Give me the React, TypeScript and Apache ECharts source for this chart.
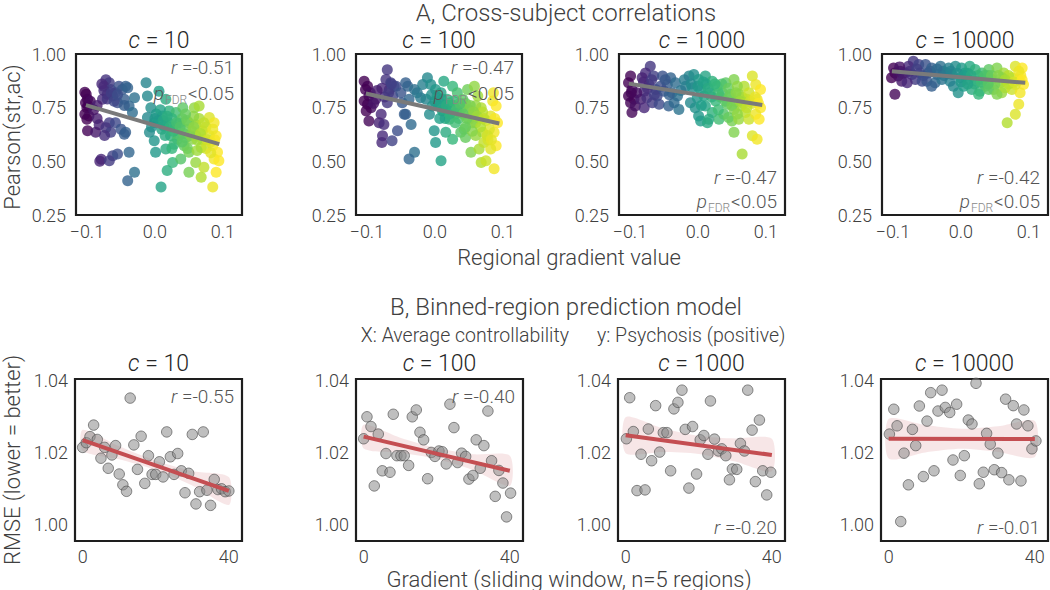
import React, { useEffect, useRef } from "react";
import * as echarts from "echarts";

const cLabels = ["10", "100", "1000", "10000"];
const rA = ["-0.51", "-0.47", "-0.47", "-0.42"];
const rB = ["-0.55", "-0.40", "-0.20", "-0.01"];
const aTicksX = [-0.1, 0, 0.1];
const aTicksY = [0.25, 0.5, 0.75, 1.0];
const bTicksX = [0, 40];
const bTicksY = [1.0, 1.02, 1.04];

const scatterA10 = [
  [-0.103,0.822],[-0.101,0.812],[-0.099,0.789],[-0.102,0.773],[-0.098,0.758],[-0.1,0.75],[-0.103,0.719],[-0.097,0.711],[-0.1,0.696],[-0.099,0.642],
  [-0.085,0.7],[-0.082,0.67],[-0.087,0.635],[-0.079,0.51],[-0.081,0.5],
  [-0.072,0.88],[-0.067,0.866],[-0.075,0.85],[-0.065,0.835],[-0.07,0.812],[-0.062,0.804],[-0.077,0.789],[-0.067,0.68],[-0.072,0.657],[-0.065,0.635],[-0.074,0.62],[-0.062,0.526],[-0.067,0.503],
  [-0.053,0.85],[-0.058,0.82],[-0.048,0.835],[-0.043,0.85],[-0.055,0.773],[-0.045,0.789],[-0.058,0.68],[-0.05,0.65],[-0.045,0.626],[-0.055,0.534],
  [-0.04,0.843],[-0.03,0.796],[-0.038,0.758],[-0.033,0.727],[-0.043,0.635],[-0.038,0.542],[-0.03,0.449],[-0.04,0.41],
  [-0.013,0.866],[-0.011,0.804],[-0.006,0.75],[-0.011,0.704],[-0.001,0.68],[-0.008,0.635],[-0.001,0.596],[0.001,0.542],[0.009,0.38],
  [0.006,0.827],[0.016,0.789],[0.011,0.711],[0.021,0.735],[0.013,0.665],[0.023,0.619],[0.016,0.557],[0.018,0.457],[0.026,0.495],
  [0.031,0.727],[0.041,0.75],[0.036,0.68],[0.045,0.65],[0.033,0.603],[0.043,0.573],[0.05,0.542],[0.038,0.511],[0.05,0.449],
  [0.058,0.75],[0.065,0.758],[0.06,0.672],[0.07,0.642],[0.055,0.603],[0.068,0.565],[0.06,0.495],[0.072,0.472],[0.068,0.426],
  [0.08,0.704],[0.087,0.68],[0.09,0.619],[0.085,0.573],[0.092,0.542],[0.087,0.511],[0.094,0.503],[0.09,0.449],[0.085,0.38],
  [0.0,0.7],[0.005,0.69],[0.01,0.65],[0.02,0.68],[0.025,0.7],[0.03,0.66],[0.035,0.62],[0.04,0.7],[0.045,0.61],[0.05,0.68],
  [0.055,0.64],[0.06,0.62],[0.065,0.7],[0.07,0.6],[0.075,0.66],[0.08,0.62],[0.085,0.65],[-0.005,0.66],[0.015,0.62],[0.028,0.58],
  [0.048,0.56],[0.075,0.56],[0.082,0.59],
  [-0.075,0.83],[-0.07,0.79],[-0.078,0.86],[-0.064,0.82],[-0.06,0.78],[-0.095,0.78],[-0.09,0.74],[-0.085,0.76],[-0.055,0.81],[-0.045,0.76],
  [0.002,0.72],[0.008,0.74],[0.012,0.69],[0.018,0.71],[0.022,0.66],[0.027,0.64],[0.032,0.68],[0.037,0.66],[0.042,0.63],[0.047,0.69],
  [0.052,0.62],[0.057,0.66],[0.062,0.6],[0.067,0.63],[0.072,0.68],[0.077,0.6],[0.082,0.54],[0.088,0.6],[0.062,0.55],[0.04,0.59],
  [0.025,0.56],[0.057,0.71],[0.045,0.72]
];

const scatterA100 = [
  [-0.104,0.873],[-0.099,0.85],[-0.102,0.835],[-0.097,0.804],[-0.104,0.781],[-0.099,0.766],[-0.094,0.75],[-0.101,0.735],[-0.097,0.688],
  [-0.087,0.789],[-0.079,0.719],[-0.082,0.68],[-0.077,0.619],[-0.078,0.588],
  [-0.07,0.927],[-0.072,0.881],[-0.065,0.866],[-0.067,0.835],[-0.06,0.85],[-0.062,0.804],[-0.07,0.773],[-0.063,0.596],[-0.075,0.672],
  [-0.057,0.85],[-0.05,0.82],[-0.043,0.866],[-0.048,0.773],[-0.055,0.642],[-0.045,0.719],
  [-0.04,0.85],[-0.03,0.835],[-0.038,0.789],[-0.026,0.82],[-0.043,0.719],[-0.035,0.672],[-0.03,0.542],[-0.038,0.511],[-0.018,0.858],[-0.021,0.796],
  [-0.011,0.889],[-0.006,0.858],[0.001,0.835],[-0.013,0.789],[-0.004,0.758],[-0.001,0.642],[0.001,0.588],[0.009,0.503],[-0.008,0.719],
  [0.013,0.873],[0.009,0.82],[0.018,0.789],[0.026,0.85],[0.011,0.735],[0.021,0.696],[0.016,0.635],[0.026,0.603],[0.023,0.742],
  [0.033,0.82],[0.041,0.789],[0.048,0.835],[0.036,0.727],[0.05,0.696],[0.038,0.635],[0.045,0.611],[0.053,0.542],[0.043,0.65],
  [0.058,0.85],[0.063,0.804],[0.068,0.75],[0.06,0.68],[0.07,0.635],[0.065,0.557],[0.072,0.588],[0.068,0.495],[0.075,0.503],
  [0.085,0.781],[0.09,0.758],[0.082,0.711],[0.092,0.68],[0.087,0.635],[0.09,0.573],[0.082,0.557],[0.087,0.465],
  [0.0,0.78],[0.005,0.76],[0.01,0.79],[0.02,0.77],[0.028,0.76],[0.03,0.72],[0.04,0.75],[0.045,0.77],[0.05,0.74],[0.055,0.72],
  [0.06,0.76],[0.065,0.7],[0.07,0.73],[0.075,0.69],[0.08,0.65],[0.035,0.7],[0.015,0.7],[0.055,0.68],[0.06,0.62],[0.078,0.6],
  [0.086,0.82],[-0.005,0.81],[0.007,0.7],
  [-0.078,0.84],[-0.074,0.8],[-0.068,0.82],[-0.064,0.86],[-0.09,0.77],[-0.095,0.82],[-0.085,0.83],[0.003,0.8],[0.008,0.77],[0.012,0.74],
  [0.017,0.76],[0.022,0.72],[0.027,0.78],[0.032,0.74],[0.037,0.77],[0.042,0.72],[0.047,0.7],[0.052,0.76],[0.057,0.73],[0.062,0.71],
  [0.067,0.66],[0.072,0.7],[0.077,0.62],[0.083,0.6],[0.088,0.7],[0.055,0.64],[0.045,0.66],[0.03,0.68]
];

const scatterA1000 = [
  [-0.099,0.897],[-0.102,0.866],[-0.097,0.835],[-0.102,0.804],[-0.094,0.789],[-0.099,0.773],[-0.097,0.727],[-0.092,0.758],
  [-0.07,0.943],[-0.077,0.912],[-0.082,0.889],[-0.065,0.897],[-0.072,0.858],[-0.079,0.827],[-0.062,0.835],[-0.084,0.789],[-0.075,0.796],[-0.06,0.804],[-0.079,0.75],[-0.067,0.773],[-0.057,0.766],
  [-0.052,0.897],[-0.04,0.889],[-0.045,0.858],[-0.033,0.866],[-0.05,0.827],[-0.038,0.82],[-0.03,0.804],[-0.043,0.758],[-0.028,0.742],[-0.035,0.773],
  [-0.013,0.897],[-0.006,0.905],[0.001,0.881],[-0.018,0.85],[-0.008,0.843],[0.004,0.835],[-0.011,0.773],[-0.001,0.796],[0.001,0.711],[0.004,0.688],[0.014,0.68],[-0.004,0.75],
  [0.011,0.897],[0.021,0.873],[0.028,0.85],[0.009,0.804],[0.018,0.82],[0.026,0.781],[0.011,0.758],[0.021,0.727],[0.031,0.696],[0.016,0.696],
  [0.041,0.866],[0.053,0.881],[0.036,0.82],[0.048,0.812],[0.043,0.766],[0.053,0.742],[0.038,0.719],[0.05,0.688],[0.053,0.635],[0.045,0.704],
  [0.068,0.85],[0.06,0.812],[0.072,0.789],[0.063,0.758],[0.07,0.727],[0.06,0.696],[0.075,0.696],[0.065,0.534],
  [0.08,0.897],[0.085,0.858],[0.092,0.835],[0.087,0.789],[0.092,0.75],[0.085,0.719],[0.09,0.696],[0.08,0.619],[0.087,0.603],
  [-0.09,0.82],[-0.02,0.88],[0.03,0.82],[0.035,0.86],[0.045,0.84],[0.058,0.85],[0.065,0.8],[0.075,0.82],[0.08,0.77],[0.012,0.86],
  [-0.025,0.83],[0.055,0.78],[0.005,0.76],
  [-0.08,0.87],[-0.074,0.84],[-0.068,0.88],[-0.064,0.81],[-0.055,0.85],[-0.048,0.88],[-0.042,0.81],[-0.098,0.82],[-0.01,0.86],[0.0,0.85],
  [0.008,0.87],[0.015,0.84],[0.02,0.8],[0.025,0.86],[0.033,0.8],[0.04,0.78],[0.046,0.8],[0.05,0.76],[0.056,0.82],[0.062,0.78],
  [0.067,0.77],[0.072,0.75],[0.077,0.78],[0.084,0.8],[0.089,0.77],[0.058,0.72],[0.03,0.74]
];

const scatterA10000 = [
  [-0.099,0.935],[-0.097,0.912],[-0.102,0.889],[-0.092,0.897],[-0.097,0.812],[-0.089,0.92],[-0.087,0.873],
  [-0.07,0.966],[-0.077,0.943],[-0.062,0.951],[-0.082,0.912],[-0.072,0.905],[-0.06,0.912],[-0.067,0.881],[-0.079,0.866],[-0.057,0.873],
  [-0.052,0.951],[-0.043,0.935],[-0.03,0.943],[-0.048,0.912],[-0.035,0.905],[-0.026,0.92],[-0.05,0.873],[-0.038,0.866],[-0.028,0.881],[-0.043,0.85],
  [-0.018,0.935],[-0.008,0.943],[0.001,0.935],[-0.013,0.905],[-0.001,0.889],[0.006,0.912],[-0.011,0.85],[-0.004,0.82],[0.004,0.85],[-0.016,0.873],
  [0.013,0.943],[0.021,0.928],[0.031,0.912],[0.011,0.881],[0.023,0.873],[0.033,0.881],[0.016,0.835],[0.028,0.827],[0.036,0.85],[0.026,0.812],
  [0.041,0.928],[0.053,0.935],[0.063,0.912],[0.045,0.881],[0.058,0.866],[0.048,0.835],[0.06,0.82],[0.041,0.835],[0.053,0.812],[0.065,0.843],
  [0.08,0.943],[0.09,0.935],[0.075,0.889],[0.085,0.881],[0.092,0.858],[0.075,0.835],[0.087,0.82],[0.08,0.858],[0.085,0.766],[0.08,0.719],[0.068,0.68],
  [-0.09,0.94],[-0.02,0.91],[0.01,0.91],[0.04,0.9],[0.07,0.9],[0.088,0.9],[0.06,0.89],[0.0,0.87],[0.025,0.9],
  [-0.085,0.91],[-0.075,0.92],[-0.065,0.93],[-0.055,0.9],[-0.045,0.92],[-0.035,0.93],[-0.025,0.9],[-0.015,0.92],[-0.005,0.91],[0.005,0.9],
  [0.015,0.9],[0.02,0.86],[0.03,0.87],[0.035,0.9],[0.045,0.9],[0.05,0.86],[0.055,0.9],[0.065,0.88],[0.07,0.86],[0.078,0.87],
  [0.085,0.92],[0.09,0.88],[0.01,0.86],[0.04,0.86]
];

const fitA10 = [[-0.1015, 0.762], [0.0946, 0.58]];
const fitA100 = [[-0.1015, 0.816], [0.0946, 0.676]];
const fitA1000 = [[-0.1015, 0.862], [0.0946, 0.762]];
const fitA10000 = [[-0.1015, 0.92], [0.0946, 0.866]];

const scatterB10 = [
  [0,1.0213],[1,1.0226],[2,1.0243],[3,1.0275],[4,1.0235],[5,1.0183],[6,1.0213],[7,1.0155],[8,1.0192],[9,1.0218],
  [10,1.0139],[11,1.0109],[12,1.0091],[13,1.035],[14,1.022],[15,1.0152],[16,1.0244],[17,1.0113],[18,1.019],[19,1.0138],
  [20,1.0138],[21,1.0173],[22,1.0131],[23,1.0256],[24,1.0187],[25,1.0138],[26,1.0196],[27,1.0148],[28,1.0087],[29,1.0141],
  [30,1.0249],[31,1.0056],[32,1.009],[33,1.0256],[34,1.0094],[35,1.0052],[36,1.0124],[37,1.0096],[38,1.0098],[39,1.009],[40,1.0092]
];
const scatterB100 = [
  [0,1.0237],[0.9,1.0298],[2,1.0271],[2.9,1.0106],[4,1.025],[5.1,1.0148],[6.1,1.0196],[7.2,1.0144],[8.1,1.0305],[9.1,1.019],
  [10.2,1.019],[11.1,1.019],[12.3,1.0163],[13.3,1.0298],[14.4,1.0317],[15.4,1.0255],[16.4,1.0234],[17.5,1.0126],[18.5,1.0199],[19.5,1.0188],
  [20.6,1.0203],[21.5,1.0201],[22.6,1.0167],[23.6,1.0333],[24.7,1.0268],[25.7,1.0171],[26.8,1.0197],[27.9,1.0188],[28.8,1.0125],[29.9,1.0135],
  [30.8,1.0234],[31.9,1.0155],[32.9,1.0218],[34,1.0314],[35,1.0176],[36,1.0077],[37,1.0149],[38.1,1.0114],[39.1,1.002],[40.2,1.0086]
];
const scatterB1000 = [
  [0.2,1.0237],[1.1,1.0351],[2.1,1.0257],[3.1,1.0093],[4.2,1.0194],[5.3,1.0095],[6.2,1.0264],[7.1,1.0176],[8.2,1.0329],[9.3,1.02],
  [10.3,1.0254],[11.3,1.0254],[12.3,1.0148],[13.2,1.032],[14.3,1.0338],[15.4,1.0372],[16.3,1.0263],[17.3,1.01],[18.3,1.0271],[19.4,1.0139],
  [20.4,1.0234],[21.4,1.0246],[22.5,1.0194],[23.2,1.0342],[24.3,1.0236],[25.4,1.0203],[26.3,1.0209],[27.4,1.019],[28.4,1.0123],[29.2,1.0153],
  [30.4,1.0152],[31.4,1.0224],[32.5,1.0203],[33.4,1.0372],[34.6,1.0261],[35.5,1.0118],[36.6,1.0289],[37.5,1.0148],[38.6,1.0081],[39.7,1.0144]
];
const scatterB10000 = [
  [0.2,1.025],[1.4,1.0319],[2.3,1.0273],[3.3,1.0007],[4.2,1.0197],[5.4,1.0109],[6.5,1.0263],[7.4,1.0218],[8.4,1.0328],[9.5,1.0132],
  [10.5,1.0286],[11.5,1.0365],[12.4,1.0148],[13.5,1.0314],[14.6,1.0372],[15.5,1.0324],[16.7,1.031],[17.6,1.0178],[18.6,1.0333],[19.6,1.0135],
  [20.7,1.019],[21.8,1.0289],[22.8,1.0278],[23.9,1.0391],[24.8,1.0112],[25.9,1.0144],[26.8,1.0252],[27.8,1.0222],[28.9,1.0151],[29.9,1.0197],
  [30.9,1.0143],[32,1.0347],[32.9,1.0123],[34.1,1.0329],[35,1.0278],[36.2,1.012],[37,1.0317],[38.1,1.0273],[39.2,1.0209],[40.3,1.0231]
];

const fitB10 = [[0, 1.0233], [40, 1.0092]];
const fitB100 = [[0, 1.0243], [40, 1.0148]];
const fitB1000 = [[0, 1.0247], [40, 1.0192]];
const fitB10000 = [[0, 1.0237], [40, 1.0236]];

const bandX = [0, 10, 20, 30, 40];
const bandLoB10 = [1.0204, 1.018, 1.015, 1.0107, 1.0053];
const bandHiB10 = [1.0262, 1.0216, 1.0176, 1.0147, 1.0131];
const bandLoB100 = [1.021, 1.0198, 1.0181, 1.015, 1.0106];
const bandHiB100 = [1.0276, 1.024, 1.0211, 1.0194, 1.019];
const bandLoB1000 = [1.0197, 1.02, 1.0195, 1.0174, 1.0147];
const bandHiB1000 = [1.0297, 1.0266, 1.0245, 1.0238, 1.0237];
const bandLoB10000 = [1.0182, 1.0199, 1.0209, 1.02, 1.0186];
const bandHiB10000 = [1.0292, 1.0275, 1.0265, 1.0272, 1.0286];

const viridis = ["#440154", "#482878", "#3e4989", "#31688e", "#26828e", "#1f9e89", "#35b779", "#6ece58", "#b5de2b", "#fde725"];

const FONT = "Roboto, 'Noto Sans', sans-serif";
const TXT = "#404040";

export default function App() {
  const ref = useRef<HTMLDivElement>(null);

  useEffect(() => {
    document.body.style.margin = "0";
    if (!ref.current) return;
    const chart = echarts.init(ref.current, undefined, { renderer: "svg" });

    const scatterA = [scatterA10, scatterA100, scatterA1000, scatterA10000];
    const fitA = [fitA10, fitA100, fitA1000, fitA10000];
    const scatterB = [scatterB10, scatterB100, scatterB1000, scatterB10000];
    const fitB = [fitB10, fitB100, fitB1000, fitB10000];
    const bandLo = [bandLoB10, bandLoB100, bandLoB1000, bandLoB10000];
    const bandHi = [bandHiB10, bandHiB100, bandHiB1000, bandHiB10000];

    const leftsA = [76, 356, 619, 882];
    const leftsB = [75, 356, 618, 881];
    const wA = 166, wB = 167;

    const grids: any[] = [];
    leftsA.forEach((l) => grids.push({ left: l, top: 54, width: wA, height: 161 }));
    leftsB.forEach((l) => grids.push({ left: l, top: 379, width: wB, height: 162 }));
    grids.forEach((g) => { g.show = true; g.borderColor = "#1e1e1e"; g.borderWidth = 2.2; g.backgroundColor = "rgba(0,0,0,0)"; });

    const fmtA = (v: number) => (v < -1e-9 ? "\u2212" : "") + Math.abs(v).toFixed(1);
    const labelBase = { fontSize: 18, color: TXT, fontFamily: FONT, fontWeight: 300 as any };

    const xAxes: any[] = [];
    const yAxes: any[] = [];
    for (let i = 0; i < 4; i++) {
      xAxes.push({
        gridIndex: i, type: "value", min: -0.116, max: 0.128,
        axisLine: { show: false }, axisTick: { show: false }, splitLine: { show: false },
        axisLabel: { ...labelBase, customValues: aTicksX, formatter: fmtA, margin: 7 },
      });
      yAxes.push({
        gridIndex: i, type: "value", min: 0.25, max: 1.0,
        axisLine: { show: false }, axisTick: { show: false }, splitLine: { show: false },
        axisLabel: { ...labelBase, customValues: aTicksY, formatter: (v: number) => v.toFixed(2), margin: 10 },
      });
    }
    for (let i = 0; i < 4; i++) {
      xAxes.push({
        gridIndex: 4 + i, type: "value", min: -2.1, max: 43.6,
        axisLine: { show: false }, axisTick: { show: false }, splitLine: { show: false },
        axisLabel: { ...labelBase, customValues: bTicksX, formatter: (v: number) => String(Math.round(v)), margin: 6 },
      });
      yAxes.push({
        gridIndex: 4 + i, type: "value", min: 0.9953, max: 1.0403,
        axisLine: { show: false }, axisTick: { show: false }, splitLine: { show: false },
        axisLabel: { ...labelBase, customValues: bTicksY, formatter: (v: number) => v.toFixed(2), margin: 7 },
      });
    }

    const series: any[] = [];
    const scatterAIdx: number[] = [];
    for (let i = 0; i < 4; i++) {
      scatterAIdx.push(series.length);
      series.push({
        type: "scatter", xAxisIndex: i, yAxisIndex: i, data: scatterA[i],
        symbolSize: 11, itemStyle: { opacity: 0.8 }, z: 2, silent: true,
      });
      series.push({
        type: "line", xAxisIndex: i, yAxisIndex: i, data: fitA[i], symbol: "none",
        lineStyle: { color: "#7a7a7a", width: 4 }, z: 3, silent: true,
      });
    }
    for (let i = 0; i < 4; i++) {
      const lo = bandLo[i], hi = bandHi[i];
      series.push({
        type: "custom", xAxisIndex: 4 + i, yAxisIndex: 4 + i, data: [[20, 1.02]], z: 1, silent: true,
        renderItem: (_p: any, api: any) => {
          const up = bandX.map((x, k) => api.coord([x, hi[k]]));
          const dn = bandX.map((x, k) => api.coord([x, lo[k]])).reverse();
          return {
            type: "polygon",
            shape: { points: up.concat(dn), smooth: 0.25 },
            style: { fill: "rgba(196,78,82,0.14)" },
          };
        },
      });
      series.push({
        type: "scatter", xAxisIndex: 4 + i, yAxisIndex: 4 + i, data: scatterB[i],
        symbolSize: 10.5,
        itemStyle: { color: "rgba(140,140,140,0.7)", borderColor: "#4a4a4a", borderWidth: 0.8 },
        z: 2, silent: true,
      });
      series.push({
        type: "line", xAxisIndex: 4 + i, yAxisIndex: 4 + i, data: fitB[i], symbol: "none",
        lineStyle: { color: "#c44e52", width: 4 }, z: 3, silent: true,
      });
    }

    const txt = (x: number, y: number, text: string, size: number, align = "center", extra: any = {}) => ({
      type: "text", x, y, z: 100, silent: true, ...extra,
      style: {
        text, fontSize: size, fontFamily: FONT, fontWeight: 300, fill: TXT,
        textAlign: align, align, textVerticalAlign: "middle", verticalAlign: "middle",
      },
    });

    const richBase = (size: number, color = TXT) => ({ fontSize: size, fontFamily: FONT, fontWeight: 300, color, fill: color });
    const cTitle = (x: number, y: number, c: string) => ({
      type: "text", x, y, z: 100, silent: true,
      style: {
        text: `{i|c}{n| = ${c}}`, fontSize: 23, fontFamily: FONT, fontWeight: 300, fill: "#262626",
        textAlign: "center", align: "center", textVerticalAlign: "middle", verticalAlign: "middle",
        rich: { i: { ...richBase(23, "#262626"), fontStyle: "italic" }, n: richBase(23, "#262626") },
      },
    });
    const rText = (x: number, y: number, r: string) => ({
      type: "text", x, y, z: 100, silent: true,
      style: {
        text: `{i|r}{n| =${r}}`, fontSize: 19, fontFamily: FONT, fontWeight: 300, fill: "#555",
        textAlign: "right", align: "right", textVerticalAlign: "middle", verticalAlign: "middle",
        rich: { i: { ...richBase(19, "#555"), fontStyle: "italic" }, n: richBase(19, "#555") },
      },
    });
    const pText = (x: number, y: number) => ({
      type: "text", x, y, z: 100, silent: true,
      style: {
        text: `{i|p}{s|FDR}{n|<0.05}`, fontSize: 19, fontFamily: FONT, fontWeight: 300, fill: "#555",
        textAlign: "right", align: "right", textVerticalAlign: "middle", verticalAlign: "middle",
        rich: {
          i: { ...richBase(19, "#555"), fontStyle: "italic" },
          s: { ...richBase(12, "#888"), padding: [14, 1, 0, 1] },
          n: richBase(19, "#555"),
        },
      },
    });

    const graphic: any[] = [
      txt(566, 13, "A, Cross-subject correlations", 24),
      txt(569, 257, "Regional gradient value", 22),
      txt(12, 137, "Pearson(str,ac)", 22, "center", { rotation: Math.PI / 2 }),
      txt(566, 307, "B, Binned-region prediction model", 24),
      txt(569, 335, "X: Average controllability", 19.5, "right"),
      txt(597, 335, "y: Psychosis (positive)", 19.5, "left"),
      txt(569, 579, "Gradient (sliding window, n=5 regions)", 22),
      txt(12, 460, "RMSE (lower = better)", 22, "center", { rotation: Math.PI / 2 }),
    ];
    for (let i = 0; i < 4; i++) {
      graphic.push(cTitle(leftsA[i] + wA / 2, 40, cLabels[i]));
      graphic.push(cTitle(leftsB[i] + wB / 2, 363, cLabels[i]));
      const rx = leftsA[i] + wA - 8;
      if (i < 2) {
        graphic.push(rText(rx, 67, rA[i]));
        graphic.push(pText(rx, 93));
      } else {
        graphic.push(rText(rx, 177, rA[i]));
        graphic.push(pText(rx, 201));
      }
      const bx = leftsB[i] + wB - 8;
      graphic.push(rText(bx, i < 2 ? 396 : 527, rB[i]));
    }

    chart.setOption({
      animation: false,
      textStyle: { fontFamily: FONT },
      grid: grids,
      xAxis: xAxes,
      yAxis: yAxes,
      visualMap: {
        type: "continuous", show: false, seriesIndex: scatterAIdx, dimension: 0,
        min: -0.1, max: 0.09, inRange: { color: viridis },
      },
      series,
      graphic,
    });

    return () => chart.dispose();
  }, []);

  return <div ref={ref} style={{ width: 1050, height: 590 }} />;
}
